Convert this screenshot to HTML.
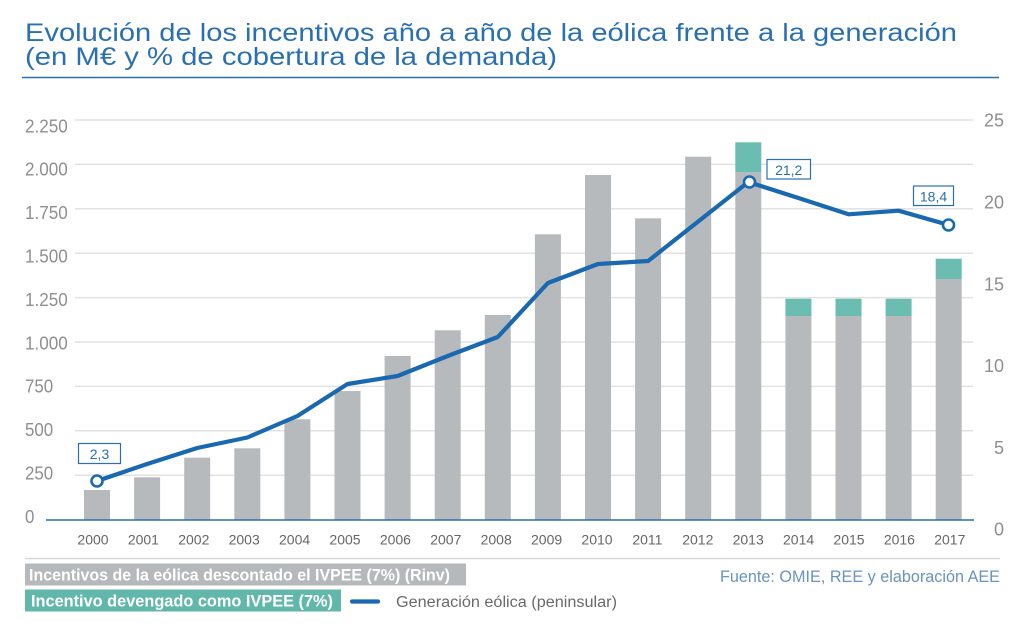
<!DOCTYPE html>
<html>
<head>
<meta charset="utf-8">
<style>
html,body{margin:0;padding:0;background:#fff;}
svg{display:block;}
text{font-family:"Liberation Sans",sans-serif;}
</style>
</head>
<body>
<svg width="1024" height="638" viewBox="0 0 1024 638" xmlns="http://www.w3.org/2000/svg">
  <rect width="1024" height="638" fill="#fff"/>
  <!-- Title -->
  <text x="25" y="41" font-size="25" fill="#2a70b0" textLength="932" lengthAdjust="spacingAndGlyphs">Evolución de los incentivos año a año de la eólica frente a la generación</text>
  <text x="25" y="65" font-size="25" fill="#2a70b0" textLength="532" lengthAdjust="spacingAndGlyphs">(en M€ y % de cobertura de la demanda)</text>
  <line x1="22" y1="77.5" x2="999" y2="77.5" stroke="#2a70b0" stroke-width="1.6"/>

  <!-- Gridlines -->
  <g stroke="#e2e2e2" stroke-width="1.5">
    <line x1="75" y1="120" x2="973" y2="120"/>
    <line x1="75" y1="164.4" x2="973" y2="164.4"/>
    <line x1="75" y1="208.8" x2="973" y2="208.8"/>
    <line x1="75" y1="253.2" x2="973" y2="253.2"/>
    <line x1="75" y1="297.6" x2="973" y2="297.6"/>
    <line x1="75" y1="342" x2="973" y2="342"/>
    <line x1="75" y1="386.4" x2="973" y2="386.4"/>
    <line x1="75" y1="430.8" x2="973" y2="430.8"/>
    <line x1="75" y1="475.2" x2="973" y2="475.2"/>
  </g>

  <!-- Left axis labels -->
  <g font-size="18" fill="#8f8f8f">
    <text x="25" y="132.3" textLength="42.7" lengthAdjust="spacingAndGlyphs">2.250</text>
    <text x="25" y="175.7" textLength="42.7" lengthAdjust="spacingAndGlyphs">2.000</text>
    <text x="25" y="219.1" textLength="42.7" lengthAdjust="spacingAndGlyphs">1.750</text>
    <text x="25" y="262.5" textLength="42.7" lengthAdjust="spacingAndGlyphs">1.500</text>
    <text x="25" y="305.9" textLength="42.7" lengthAdjust="spacingAndGlyphs">1.250</text>
    <text x="25" y="349.3" textLength="42.7" lengthAdjust="spacingAndGlyphs">1.000</text>
    <text x="25" y="392.7" textLength="28.2" lengthAdjust="spacingAndGlyphs">750</text>
    <text x="25" y="436.1" textLength="28.2" lengthAdjust="spacingAndGlyphs">500</text>
    <text x="25" y="479.5" textLength="28.2" lengthAdjust="spacingAndGlyphs">250</text>
    <text x="25" y="522.9" textLength="9.4" lengthAdjust="spacingAndGlyphs">0</text>
  </g>

  <!-- Right axis labels -->
  <g font-size="18" fill="#8f8f8f" text-anchor="end">
    <text x="1004" y="126.7">25</text>
    <text x="1004" y="208.5">20</text>
    <text x="1004" y="290.3">15</text>
    <text x="1004" y="372.1">10</text>
    <text x="1004" y="453.9">5</text>
    <text x="1004" y="535.7">0</text>
  </g>

  <!-- Bars gray -->
  <g fill="#b6babd">
    <rect x="84" y="490" width="26" height="30"/>
    <rect x="134.1" y="477.3" width="26" height="42.7"/>
    <rect x="184.2" y="457.7" width="26" height="62.3"/>
    <rect x="234.3" y="448.3" width="26" height="71.7"/>
    <rect x="284.4" y="419.3" width="26" height="100.7"/>
    <rect x="334.5" y="391" width="26" height="129"/>
    <rect x="384.6" y="356" width="26" height="164"/>
    <rect x="434.7" y="330.3" width="26" height="189.7"/>
    <rect x="484.8" y="315" width="26" height="205"/>
    <rect x="534.9" y="234.3" width="26" height="285.7"/>
    <rect x="585" y="175" width="26" height="345"/>
    <rect x="635.1" y="218.3" width="26" height="301.7"/>
    <rect x="685.2" y="156.7" width="26" height="363.3"/>
    <rect x="735.3" y="172.3" width="26" height="347.7"/>
    <rect x="785.4" y="316" width="26" height="204"/>
    <rect x="835.5" y="316" width="26" height="204"/>
    <rect x="885.6" y="316" width="26" height="204"/>
    <rect x="935.7" y="279" width="26" height="241"/>
  </g>
  <!-- Bars teal -->
  <g fill="#6cbdb1">
    <rect x="735.3" y="142.3" width="26" height="30"/>
    <rect x="785.4" y="298.7" width="26" height="17.3"/>
    <rect x="835.5" y="298.7" width="26" height="17.3"/>
    <rect x="885.6" y="298.7" width="26" height="17.3"/>
    <rect x="935.7" y="258.7" width="26" height="20.3"/>
  </g>

  <!-- Baseline -->
  <line x1="46" y1="520" x2="974" y2="520" stroke="#2a70b0" stroke-width="1.6"/>

  <!-- Line series -->
  <polyline fill="none" stroke="#1a68b0" stroke-width="4.2" stroke-linejoin="round" stroke-linecap="round"
    points="97,481 147.1,464 197.2,448 247.3,437.5 297.4,416 347.5,384 397.6,376 447.7,356 497.8,337 547.9,283 598,264 648.1,261 698.2,221.5 748.3,182 798.4,198 848.5,214.3 898.6,210.7 948.7,225"/>
  <g fill="#fff" stroke="#1a68b0" stroke-width="2.6">
    <circle cx="97" cy="481" r="5.5"/>
    <circle cx="749.5" cy="182" r="5.5"/>
    <circle cx="948.5" cy="225" r="5.5"/>
  </g>

  <!-- Value labels -->
  <g fill="#fff" stroke="#2a70b0" stroke-width="1.2">
    <rect x="78.5" y="443.5" width="42" height="20"/>
    <rect x="767" y="159.5" width="43.5" height="19.5"/>
    <rect x="913.5" y="186" width="40" height="19.5"/>
  </g>
  <g font-size="14" fill="#2a70b0" text-anchor="middle">
    <text x="99.5" y="459">2,3</text>
    <text x="788.7" y="175">21,2</text>
    <text x="933.5" y="201.5">18,4</text>
  </g>

  <!-- Year labels -->
  <g font-size="14" fill="#666" text-anchor="middle">
    <text x="93" y="544.3">2000</text>
    <text x="143.4" y="544.3">2001</text>
    <text x="193.8" y="544.3">2002</text>
    <text x="244.2" y="544.3">2003</text>
    <text x="294.6" y="544.3">2004</text>
    <text x="345" y="544.3">2005</text>
    <text x="395.4" y="544.3">2006</text>
    <text x="445.8" y="544.3">2007</text>
    <text x="496.2" y="544.3">2008</text>
    <text x="546.6" y="544.3">2009</text>
    <text x="597" y="544.3">2010</text>
    <text x="647.4" y="544.3">2011</text>
    <text x="697.8" y="544.3">2012</text>
    <text x="748.2" y="544.3">2013</text>
    <text x="798.6" y="544.3">2014</text>
    <text x="849" y="544.3">2015</text>
    <text x="899.4" y="544.3">2016</text>
    <text x="949.8" y="544.3">2017</text>
  </g>

  <!-- Separator -->
  <line x1="25" y1="558.5" x2="1000" y2="558.5" stroke="#d8d8d8" stroke-width="1.5"/>

  <!-- Legend -->
  <rect x="25" y="563.5" width="441" height="22" fill="#b5b9bc"/>
  <text x="29" y="580.5" font-size="16.5" font-weight="bold" fill="#fff" textLength="421" lengthAdjust="spacingAndGlyphs">Incentivos de la eólica descontado el IVPEE (7%) (Rinv)</text>
  <rect x="25" y="589.5" width="316" height="22" fill="#62b7ab"/>
  <text x="31" y="606.5" font-size="16.5" font-weight="bold" fill="#fff" textLength="302" lengthAdjust="spacingAndGlyphs">Incentivo devengado como IVPEE (7%)</text>
  <line x1="352" y1="601.5" x2="378" y2="601.5" stroke="#1a68b0" stroke-width="4.2" stroke-linecap="round"/>
  <text x="396" y="607" font-size="15.5" fill="#6a6a6a" textLength="221" lengthAdjust="spacingAndGlyphs">Generación eólica (peninsular)</text>

  <text x="720" y="582" font-size="16.5" fill="#6a93c0" textLength="280" lengthAdjust="spacingAndGlyphs">Fuente: OMIE, REE y elaboración AEE</text>
</svg>
</body>
</html>
